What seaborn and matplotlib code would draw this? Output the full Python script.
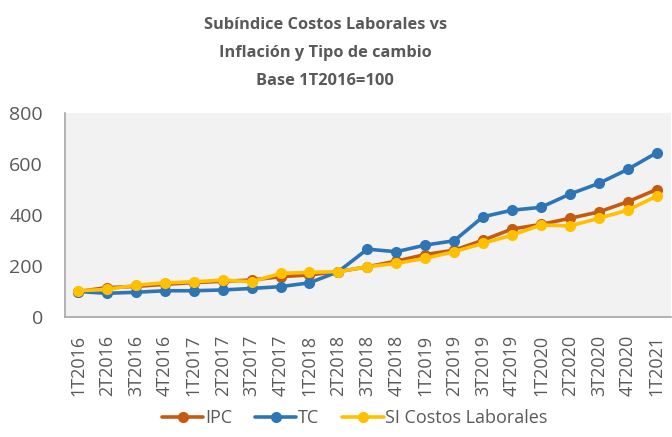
import pandas as pd
import matplotlib
matplotlib.use("Agg")
import matplotlib.pyplot as plt
import seaborn as sns

# quarters
periodos = ["1T2016", "2T2016", "3T2016", "4T2016", "1T2017", "2T2017", "3T2017",
            "4T2017", "1T2018", "2T2018", "3T2018", "4T2018", "1T2019", "2T2019",
            "3T2019", "4T2019", "1T2020", "2T2020", "3T2020", "4T2020", "1T2021"]

ipc = [100, 115, 120, 128, 135, 140, 145, 158, 165, 178, 197, 219, 245, 262,
       301, 345, 363, 387, 412, 452, 500]
tc = [100, 93, 97, 103, 103, 106, 112, 119, 134, 178, 266, 256, 282, 299,
      393, 419, 430, 482, 524, 579, 644]
si_costos = [103, 108, 125, 134, 138, 145, 138, 171, 175, 178, 197, 210, 230, 256,
             289, 321, 361, 357, 387, 419, 474]

series = ["IPC", "TC", "SI Costos Laborales"]
colores = ["#C55A11", "#2E75B6", "#FFC000"]

df = pd.DataFrame({"Periodo": periodos * 3,
                   "Valor": ipc + tc + si_costos,
                   "Serie": [s for s in series for _ in periodos]})

sns.set_style("white")
plt.rcParams["font.family"] = ["Open Sans", "DejaVu Sans"]

fig = plt.figure(figsize=(6.72, 4.37), dpi=100)
ax = fig.add_axes([0.0967, 0.2746, 0.902, 0.4668])
ax.set_facecolor("#F2F2F2")

sns.lineplot(data=df, x="Periodo", y="Valor", hue="Serie", hue_order=series,
             palette=colores, marker="o", markersize=8, markeredgewidth=0,
             linewidth=2.6, sort=False, ax=ax)

ax.set_xlim(-0.45, 20.5)
ax.set_ylim(0, 800)
ax.set_yticks([0, 200, 400, 600, 800])
ax.set_xlabel("")
ax.set_ylabel("")
ax.tick_params(axis="y", labelsize=14, colors="#595959", length=0, pad=16)
ax.tick_params(axis="x", labelsize=13, colors="#595959", length=0, rotation=90, pad=13)
for s in ["top", "right"]:
    ax.spines[s].set_visible(False)
for s in ["left", "bottom"]:
    ax.spines[s].set_color("#A6A6A6")
    ax.spines[s].set_linewidth(1.2)

fig.text(0.484, 0.962, "Subíndice Costos Laborales vs\nInflación y Tipo de cambio\nBase 1T2016=100",
         ha="center", va="top", fontsize=11.8, fontweight="bold", color="#595959",
         linespacing=2.0)

ax.legend(loc="center", bbox_to_anchor=(0.528, 0.043), bbox_transform=fig.transFigure,
          ncol=3, frameon=False, fontsize=13, handlelength=2.3, handletextpad=0.1,
          columnspacing=1.25, labelcolor="#595959")

fig.savefig("out.png", dpi=100)
